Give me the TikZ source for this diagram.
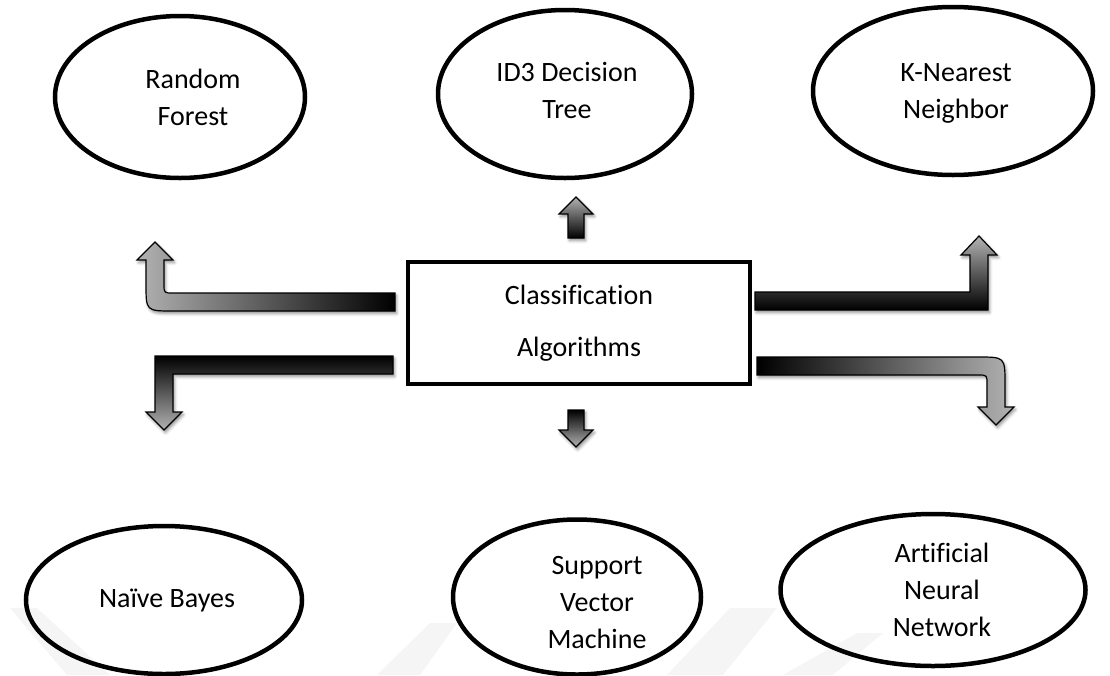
\documentclass[tikz,border=0pt]{standalone}
\usepackage{fontspec}
\setmainfont{Carlito}[Ligatures=NoCommon]
\usetikzlibrary{shapes.geometric,shadows.blur}

\begin{document}
\begin{tikzpicture}[x=1pt,y=-1pt,
  algo/.style={ellipse,draw=black,line width=4.5pt,inner sep=0pt},
  algotext/.style={inner sep=0pt,align=center,font=\fontsize{28}{37}\selectfont},
  hub/.style={rectangle,draw=black,line width=3.5pt,inner sep=0pt,align=center,
    font=\fontsize{28}{52}\selectfont},
  blockarrow/.style={draw=black,line width=1.2pt,line join=miter,
    blur shadow={shadow xshift=1.5pt,shadow yshift=-2.5pt,
      shadow blur radius=3pt,shadow opacity=45}},
  band/.style={fill=black!4,draw=none}]

\useasboundingbox (0,0) rectangle (1110,675);

% faint background bands
\fill[band] (10,608) -- (37,608) -- (110,675) -- (67,675) -- cycle;
\fill[band] (377,675) -- (430,623) -- (457,623) -- (420,675) -- cycle;
\fill[band] (667,675) -- (730,608) -- (777,608) -- (723,675) -- cycle;
\fill[band] (783,675) -- (857,633) -- (883,633) -- (833,675) -- cycle;

% central box
\node[hub,minimum width=342pt,minimum height=122pt] (hub) at (579,323)
  {Classification\\Algorithms};

% algorithm ellipses
\node[algo,minimum width=250pt,minimum height=162pt] (rf)  at (180,97)  {};
\node[algo,minimum width=254pt,minimum height=168pt] (id3) at (565,94)  {};
\node[algo,minimum width=280pt,minimum height=168pt] (knn) at (953,91)  {};
\node[algo,minimum width=276pt,minimum height=148pt] (nb)  at (164,600) {};
\node[algo,minimum width=248pt,minimum height=155pt] (svm) at (577,597) {};
\node[algo,minimum width=305pt,minimum height=152pt] (ann) at (933,590) {};

% their labels (yshift is in page direction: positive moves up)
\node[algotext] (rf-t)  at ([xshift=13pt]rf.center)  {Random\\Forest};
\node[algotext] (id3-t) at ([xshift=2pt,yshift=4pt]id3.center) {ID3 Decision\\Tree};
\node[algotext] (knn-t) at ([xshift=3pt,yshift=-2pt]knn.center) {K-Nearest\\Neighbor};
\node[algotext] (nb-t)  at ([xshift=3pt]nb.center)   {Naïve Bayes};
\node[algotext] (svm-t) at ([xshift=20pt,yshift=-6pt]svm.center) {Support\\Vector\\Machine};
\node[algotext] (ann-t) at ([xshift=9pt]ann.center)  {Artificial\\Neural\\Network};

% block arrows leaving the box
% to Random Forest
\path[blockarrow,left color=black!30,right color=black]
  (395,293) -- (173,293) .. controls (164,293) .. (164,284) -- (164,260)
  -- (173,260) -- (155,242) -- (137,260) -- (146,260) -- (146,284)
  .. controls (146,311) .. (173,311) -- (395,311) -- cycle;
% to ID3 Decision Tree
\path[blockarrow,top color=black!30,bottom color=black]
  (568,238) -- (568,214) -- (559,214) -- (576,197) -- (593,214) -- (584,214)
  -- (584,238) -- cycle;
% to K-Nearest Neighbor
\path[blockarrow,top color=black!30,bottom color=black]
  (755,292) -- (970,292) -- (970,255) -- (961,255) -- (979,236) -- (997,255)
  -- (988,255) -- (988,310) -- (755,310) -- cycle;
% to Naive Bayes
\path[blockarrow,top color=black,bottom color=black!30]
  (393,356) -- (155,356) -- (155,412) -- (146,412) -- (164,430) -- (182,412)
  -- (173,412) -- (173,374) -- (393,374) -- cycle;
% to Support Vector Machine
\path[blockarrow,top color=black,bottom color=black!30]
  (568,410) -- (584,410) -- (584,430) -- (593,430) -- (576,447) -- (559,430)
  -- (568,430) -- cycle;
% to Artificial Neural Network
\path[blockarrow,left color=black,right color=black!30]
  (757,357) -- (978,357) .. controls (1005,357) .. (1005,384) -- (1005,407)
  -- (1014,407) -- (996,425) -- (978,407) -- (987,407) -- (987,384)
  .. controls (987,375) .. (978,375) -- (757,375) -- cycle;

\end{tikzpicture}
\end{document}
